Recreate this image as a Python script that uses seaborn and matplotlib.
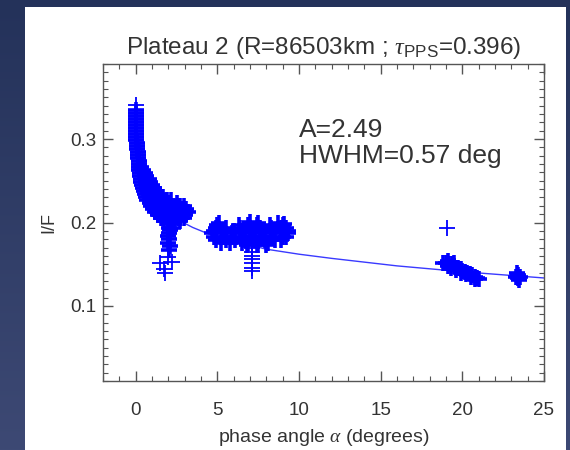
import numpy as np
import pandas as pd
import matplotlib
matplotlib.use("Agg")
import matplotlib.pyplot as plt
from matplotlib.patches import Rectangle
from matplotlib.ticker import MultipleLocator
import seaborn as sns

# ---------------- data ----------------
# cluster near opposition (steep decaying band); each pair is (phase angle, I/F)
c1 = [
    (0.03, 0.335), (0.03, 0.331), (0.03, 0.328), (0.03, 0.324), (0.03, 0.320),
    (0.03, 0.317), (0.03, 0.313), (0.03, 0.310), (0.03, 0.306), (0.03, 0.302),
    (0.05, 0.299), (0.06, 0.295), (0.08, 0.292), (0.10, 0.288), (0.12, 0.284),
    (0.14, 0.281), (0.16, 0.277), (0.18, 0.274), (0.20, 0.270),
    (0.20, 0.266), (0.35, 0.266), (0.22, 0.263), (0.45, 0.263),
    (0.25, 0.259), (0.55, 0.259), (0.28, 0.256), (0.65, 0.256),
    (0.32, 0.252), (0.80, 0.252), (0.35, 0.248), (0.90, 0.248),
    (0.38, 0.245), (1.00, 0.245), (0.42, 0.241), (1.10, 0.241),
    (0.48, 0.238), (1.00, 0.238), (1.25, 0.238),
    (0.55, 0.234), (1.10, 0.234), (1.50, 0.234),
    (0.62, 0.230), (1.20, 0.230), (1.70, 0.230),
    (0.72, 0.227), (1.30, 0.227), (1.90, 0.227), (2.15, 0.227),
    (0.85, 0.223), (1.40, 0.223), (2.00, 0.223), (2.50, 0.223),
    (0.95, 0.220), (1.50, 0.220), (2.10, 0.220), (2.70, 0.220), (2.95, 0.220),
    (1.08, 0.216), (1.70, 0.216), (2.30, 0.216), (2.90, 0.216), (3.10, 0.216),
    (1.20, 0.212), (1.80, 0.212), (2.40, 0.212), (3.00, 0.212), (3.20, 0.212),
    (1.35, 0.209), (1.95, 0.209), (2.50, 0.209), (3.05, 0.209),
    (1.55, 0.205), (2.10, 0.205), (2.60, 0.205), (2.95, 0.205),
    (1.75, 0.202), (2.25, 0.202), (2.70, 0.202),
    (1.95, 0.198), (2.35, 0.198), (2.05, 0.194), (2.30, 0.194),
    (2.10, 0.191), (2.05, 0.187), (2.00, 0.184), (2.05, 0.180),
    (2.00, 0.176), (2.10, 0.172), (2.03, 0.167),
]
# isolated low points below the first cluster
c1_low = [(0.0, 0.341), (2.23, 0.153), (1.52, 0.151), (1.72, 0.144),
          (1.82, 0.139), (1.95, 0.159)]

# cluster between 4 and 10 degrees
c2 = [
    (5.1, 0.200), (7.0, 0.201), (7.5, 0.200), (8.7, 0.199), (9.1, 0.198),
    (5.0, 0.197), (6.3, 0.197), (6.9, 0.197), (7.4, 0.197), (8.2, 0.197), (9.0, 0.197),
    (4.9, 0.194), (5.5, 0.194), (6.4, 0.194), (7.0, 0.194), (7.6, 0.194),
    (8.3, 0.194), (8.9, 0.194), (9.2, 0.194),
    (4.8, 0.190), (5.4, 0.190), (6.0, 0.190), (6.6, 0.190), (7.2, 0.190),
    (7.8, 0.190), (8.4, 0.190), (9.0, 0.190), (9.3, 0.190),
    (4.7, 0.187), (5.3, 0.187), (5.9, 0.187), (6.5, 0.187), (7.1, 0.187),
    (7.7, 0.187), (8.3, 0.187), (8.9, 0.187), (9.3, 0.187),
    (4.8, 0.183), (5.4, 0.183), (6.0, 0.183), (6.6, 0.183), (7.2, 0.183),
    (7.8, 0.183), (8.4, 0.183), (9.0, 0.183), (9.2, 0.183),
    (4.9, 0.179), (5.5, 0.179), (6.1, 0.179), (6.7, 0.179), (7.3, 0.179),
    (7.9, 0.179), (8.5, 0.179), (8.9, 0.179),
    (5.2, 0.176), (5.8, 0.176), (6.5, 0.176), (6.9, 0.176), (7.5, 0.176), (8.1, 0.176),
    (6.8, 0.173), (7.4, 0.173), (8.0, 0.173),
]
c2_low = [(7.1, 0.169), (7.1, 0.165), (7.15, 0.160), (7.1, 0.156),
          (7.15, 0.151), (7.1, 0.146), (7.1, 0.142)]

# cluster near 19-21 degrees
c3 = [
    (18.8, 0.151), (19.0, 0.152), (19.1, 0.154), (19.2, 0.150), (19.35, 0.150),
    (19.5, 0.148), (19.6, 0.146), (19.75, 0.146), (19.9, 0.144), (20.0, 0.142),
    (20.15, 0.141), (20.3, 0.140), (20.45, 0.138), (20.6, 0.137), (20.75, 0.135),
    (20.9, 0.134), (21.0, 0.132), (19.3, 0.146), (19.6, 0.143), (19.9, 0.140),
    (20.2, 0.138), (20.5, 0.135), (20.8, 0.132), (19.1, 0.148), (19.5, 0.152),
]
c3_high = [(19.06, 0.193)]

# cluster near 23.5 degrees
c4 = [(23.4, 0.133), (23.4, 0.137), (23.3, 0.135), (23.5, 0.135),
      (23.45, 0.131), (23.35, 0.139)]

# fitted phase curve
fit_x = [0.0, 0.25, 0.5, 1.0, 1.5, 2.0, 2.5, 3.0, 3.5, 4.0, 4.5, 5, 6, 7, 8, 9, 10,
         12, 14, 16, 18, 20, 22, 24, 25]
fit_y = [0.318, 0.295, 0.275, 0.250, 0.233, 0.220, 0.208, 0.199, 0.194, 0.190, 0.186,
         0.184, 0.178, 0.173, 0.168, 0.165, 0.162, 0.157, 0.1525, 0.148, 0.1445, 0.141,
         0.138, 0.135, 0.1335]

x_ticks = [0, 5, 10, 15, 20, 25]
y_ticks = [0.1, 0.2, 0.3]
y_tick_labels = ["0.1", "0.2", "0.3"]

title = r"Plateau 2 (R=86503km ; $\tau_{\rm PPS}$=0.396)"
note1 = "A=2.49"
note2 = "HWHM=0.57 deg"
xlabel = r"phase angle $\alpha$ (degrees)"
ylabel = "I/F"

# ---------------- style ----------------
sns.set_theme(style="ticks")
plt.rcParams["font.family"] = ["Liberation Sans", "DejaVu Sans"]
plt.rcParams["mathtext.fontset"] = "custom"
plt.rcParams["mathtext.rm"] = "Liberation Sans"
plt.rcParams["mathtext.it"] = "Liberation Serif:italic"

W, H = 570, 450
fig = plt.figure(figsize=(W / 100, H / 100), dpi=100)

# dark screenshot background with a subtle gradient
bg = fig.add_axes([0, 0, 1, 1], zorder=-10)
grad = np.linspace(0, 1, 256).reshape(-1, 1)
cmap = matplotlib.colors.LinearSegmentedColormap.from_list("bg", ["#24325a", "#3d4974"])
bg.imshow(grad, aspect="auto", cmap=cmap, extent=[0, 1, 0, 1], origin="upper")
bg.set_axis_off()
fig.patches.append(Rectangle((25 / W, 0), (566 - 25) / W, (H - 7) / H,
                             transform=fig.transFigure, facecolor="white",
                             edgecolor="none", zorder=-5))

ax = fig.add_axes([103 / W, 1 - 381 / H, (544 - 103) / W, (381 - 64) / H])
ax.set_facecolor("white")

blue = "#0000ff"
fit_df = pd.DataFrame({"x": fit_x, "y": fit_y})
sns.lineplot(data=fit_df, x="x", y="y", sort=False, estimator=None, ax=ax,
             color="#3a3aff", linewidth=1.0, zorder=2)

dense = pd.DataFrame(c1 + c2 + c3 + c4, columns=["x", "y"])
sparse = pd.DataFrame(c1_low + c2_low + c3_high, columns=["x", "y"])
sns.scatterplot(data=dense, x="x", y="y", marker="+", s=130, linewidth=2.6,
                color=blue, ax=ax, zorder=3)
sns.scatterplot(data=sparse, x="x", y="y", marker="+", s=120, linewidth=1.3,
                color=blue, ax=ax, zorder=3)

ax.set_xlim(-2, 25)
ax.set_ylim(0.01, 0.39)
ax.set_xticks(x_ticks)
ax.set_yticks(y_ticks)
ax.set_yticklabels(y_tick_labels)
ax.xaxis.set_minor_locator(MultipleLocator(1))
ax.yaxis.set_minor_locator(MultipleLocator(0.01))
ax.tick_params(which="both", direction="in", top=True, right=True, color="#555555")
ax.tick_params(which="major", length=7, width=1, labelsize=13.5, labelcolor="#333333")
ax.tick_params(which="minor", length=3.5, width=0.8)
ax.tick_params(axis="x", which="major", pad=15)
ax.tick_params(axis="y", which="major", pad=5)
for sp in ax.spines.values():
    sp.set_color("#555555")
    sp.set_linewidth(1.0)

ax.set_title(title, fontsize=17.5, color="#333333", pad=7)
ax.set_xlabel(xlabel, fontsize=14, color="#333333", labelpad=6)
ax.set_ylabel(ylabel, fontsize=13, color="#333333", labelpad=9)

ax.text(10.0, 0.302, note1, fontsize=19, color="#333333", va="baseline", ha="left")
ax.text(10.0, 0.2709, note2, fontsize=19, color="#333333", va="baseline", ha="left")

fig.savefig("out.png", dpi=100)
